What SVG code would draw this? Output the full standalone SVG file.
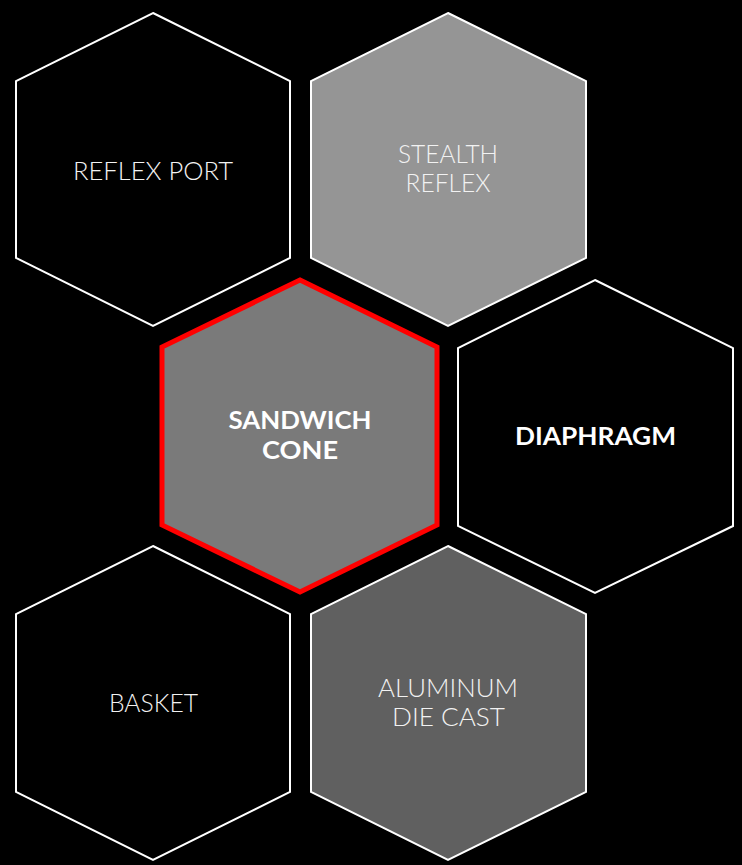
<svg xmlns="http://www.w3.org/2000/svg" width="742" height="865" viewBox="0 0 742 865">
<style>
.hex{stroke:#ffffff;stroke-width:2;stroke-linejoin:miter}
.sel{stroke:#ff0000;stroke-width:5;stroke-linejoin:miter}
.lt{font-family:Lato,"Liberation Sans","DejaVu Sans",sans-serif;font-weight:300;font-size:26px;fill:#f2f2f2;text-anchor:middle}
.bd{font-family:Lato,"Liberation Sans","DejaVu Sans",sans-serif;font-weight:700;font-size:24px;fill:#ffffff;text-anchor:middle}
</style>
<rect x="0" y="0" width="742" height="865" fill="#000000"/>
<g id="connectors"></g>
<g id="reflex-port">
<polygon class="hex" fill="#000000" points="153,13 290,81 290,258 153,326 16,258 16,81"/>
<text class="lt" x="153" y="180" textLength="160" lengthAdjust="spacingAndGlyphs">REFLEX PORT</text>
</g>
<g id="stealth-reflex">
<polygon class="hex" fill="#959595" points="448,13 586,81 586,258 448,326 311,258 311,81"/>
<text class="lt" x="448" y="163" textLength="100" lengthAdjust="spacingAndGlyphs">STEALTH</text>
<text class="lt" x="448" y="192" textLength="85" lengthAdjust="spacingAndGlyphs">REFLEX</text>
</g>
<g id="sandwich-cone">
<polygon class="sel" fill="#7a7a7a" points="300,280 437,347 437,525 300,592 162,525 162,347"/>
<text class="bd" x="300" y="429" textLength="143" lengthAdjust="spacingAndGlyphs">SANDWICH</text>
<text class="bd" x="300" y="459" textLength="76" lengthAdjust="spacingAndGlyphs">CONE</text>
</g>
<g id="diaphragm">
<polygon class="hex" fill="#000000" points="595,280 733,348 733,526 595,593 458,526 458,348"/>
<text class="bd" x="595.5" y="445" textLength="161" lengthAdjust="spacingAndGlyphs">DIAPHRAGM</text>
</g>
<g id="basket">
<polygon class="hex" fill="#000000" points="153,546 290,614 290,792 153,860 16,792 16,614"/>
<text class="lt" x="153.5" y="712" textLength="89" lengthAdjust="spacingAndGlyphs">BASKET</text>
</g>
<g id="aluminum-die-cast">
<polygon class="hex" fill="#606060" points="448,546 586,614 586,792 448,860 311,792 311,614"/>
<text class="lt" x="448" y="697" textLength="140" lengthAdjust="spacingAndGlyphs">ALUMINUM</text>
<text class="lt" x="448.5" y="726" textLength="113" lengthAdjust="spacingAndGlyphs">DIE CAST</text>
</g>
</svg>
